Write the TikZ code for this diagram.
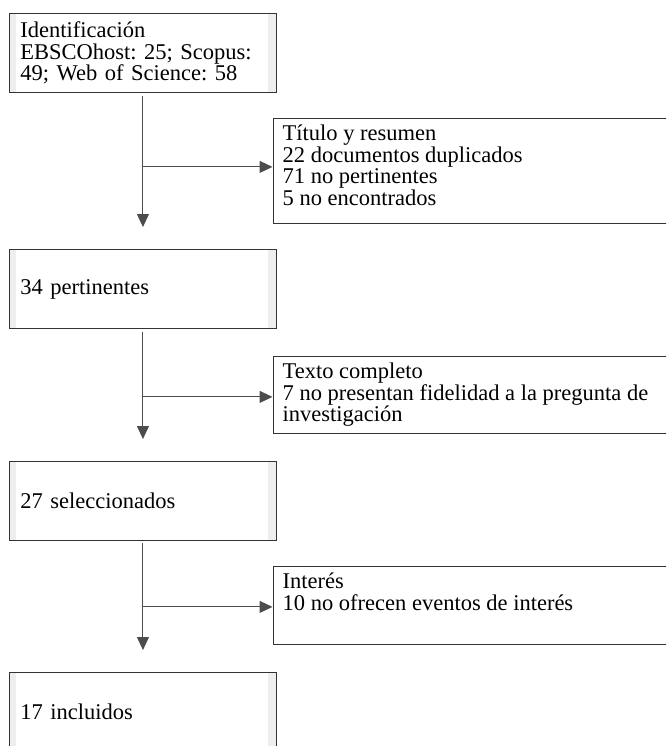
\documentclass[tikz,border=0pt]{standalone}
\usepackage{fontspec}
\setmainfont{Liberation Serif}
\frenchspacing
\usetikzlibrary{positioning, arrows.meta}
\definecolor{stripgray}{HTML}{EEEEEE}
\newcommand\boxfont{\fontsize{22.5}{21.5}\selectfont}
\tikzset{
  leftbox/.style={draw=black!80, line width=0.9pt, anchor=north west,
    minimum width=267pt, minimum height=79pt, text width=245pt,
    inner xsep=11pt, align=left, font=\boxfont,
    path picture={
      \fill[stripgray] ([xshift=1pt]path picture bounding box.north west) rectangle ([xshift=7pt]path picture bounding box.south west);
      \fill[stripgray] ([xshift=-8pt]path picture bounding box.north east) rectangle (path picture bounding box.south east);
    }},
  rightbox/.style={draw=black!80, line width=0.9pt, anchor=north west, minimum width=420pt},
  boxtext/.style={anchor=north west, inner xsep=10pt, inner ysep=7pt, align=left, font=\boxfont},
  flow/.style={draw=black!70, line width=1pt},
  flowarrow/.style={flow, -{Triangle[length=13pt,width=12pt]}}
}
\begin{document}
\begin{tikzpicture}[x=1pt,y=-1pt]
  \clip (0,0) rectangle (666,746);
  % main column
  \node[leftbox] (ident) at (9,13) {Identificación\\EBSCOhost: 25; Scopus:\\49; Web of Science: 58};
  \node[leftbox] (pert) at (9,249) {34 pertinentes};
  \node[leftbox] (selec) at (9,461) {27 seleccionados};
  \node[leftbox] (incl) at (9,672) {17 incluidos};
  % exclusions
  \node[rightbox, minimum height=105pt] (titulo) at (272.5,118) {};
  \node[boxtext] (titulot) at (titulo.north west) {Título y resumen\\22 documentos duplicados\\71 no pertinentes\\5 no encontrados};
  \node[rightbox, minimum height=77pt] (texto) at (272.5,356) {};
  \node[boxtext] (textot) at (texto.north west) {Texto completo\\7 no presentan fidelidad a la pregunta de\\investigación};
  \node[rightbox, minimum height=78pt] (interes) at (272.5,566) {};
  \node[boxtext] (interest) at (interes.north west) {Interés\\10 no ofrecen eventos de interés};
  % connectors
  \coordinate[above=22pt of pert.north] (a1);
  \coordinate[above=22pt of selec.north] (a2);
  \coordinate[above=22pt of incl.north] (a3);
  \coordinate (j1) at ([yshift=-74pt]ident.south);
  \coordinate (j2) at ([yshift=-68pt]pert.south);
  \coordinate (j3) at ([yshift=-66pt]selec.south);
  \draw[flowarrow] ([yshift=-3pt]ident.south) -- (a1);
  \draw[flowarrow] ([yshift=-3pt]pert.south) -- (a2);
  \draw[flowarrow] ([yshift=-2pt]selec.south) -- (a3);
  \draw[flowarrow] (j1) -- (j1 -| titulo.west);
  \draw[flowarrow] (j2) -- (j2 -| texto.west);
  \draw[flowarrow] (j3) -- (j3 -| interes.west);
\end{tikzpicture}
\end{document}
